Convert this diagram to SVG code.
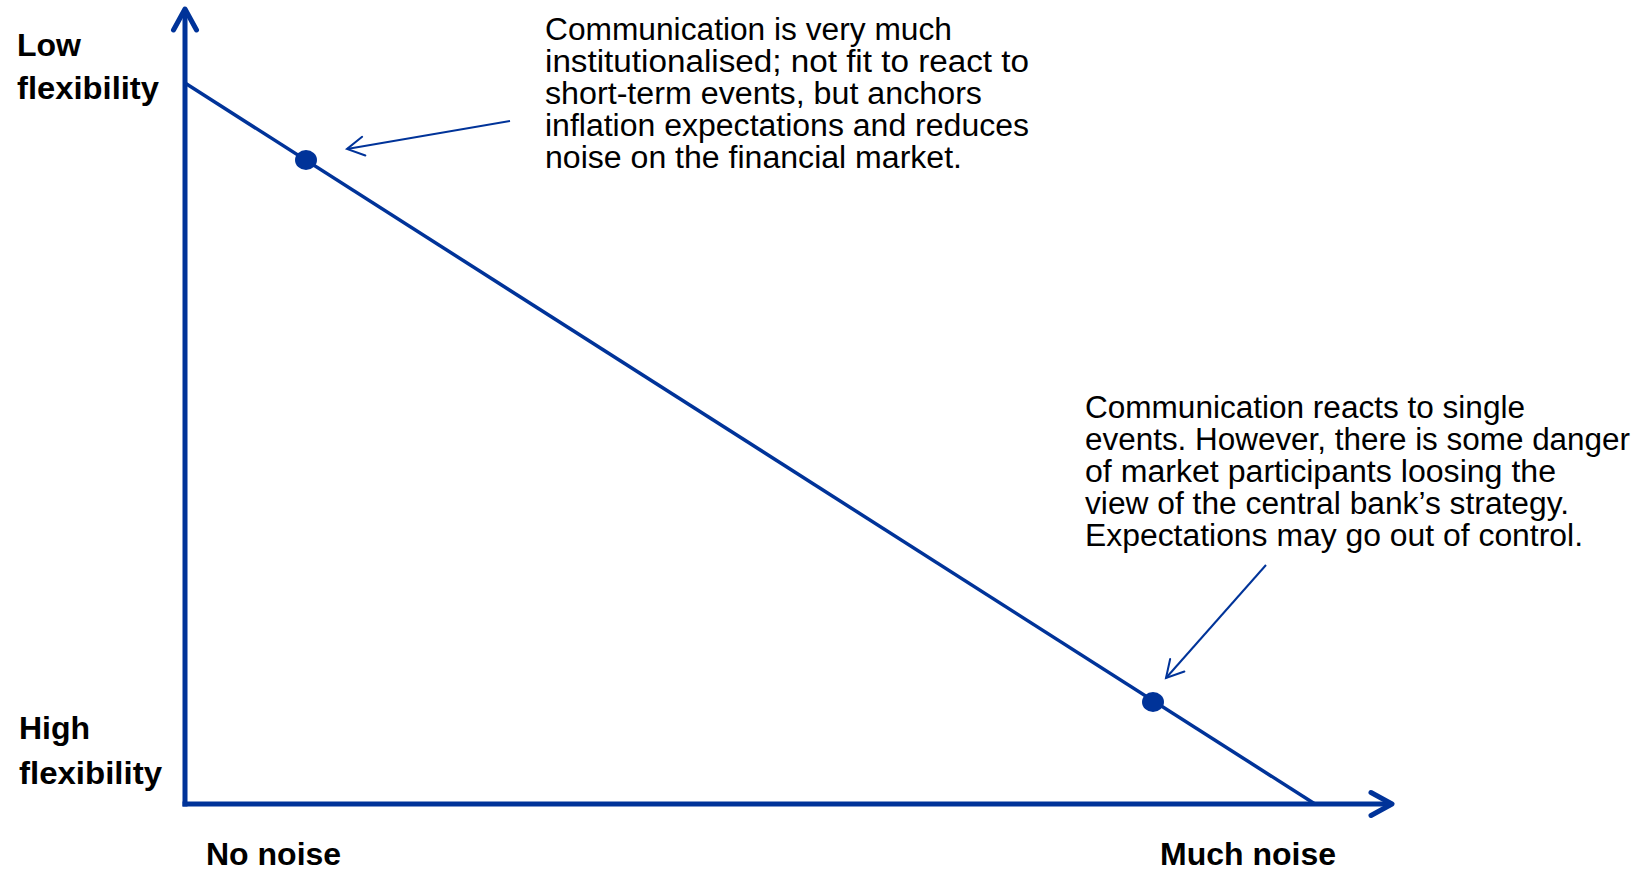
<svg xmlns="http://www.w3.org/2000/svg" width="1649" height="869" viewBox="0 0 1649 869">
<style>
.ax{stroke:#003399;stroke-width:5;fill:none}
.diag{stroke:#003399;stroke-width:3.5;fill:none}
.ptr{stroke:#003399;stroke-width:2;fill:none}
.dot{fill:#003399}
.lbl{font-family:"Liberation Sans",Arial,sans-serif;font-size:32px;font-weight:bold;fill:#000}
.txt{font-family:"Liberation Sans",Arial,sans-serif;font-size:31px;fill:#000}
</style>
<defs>
<marker id="axhead" markerUnits="userSpaceOnUse" markerWidth="40" markerHeight="40" viewBox="-30 -20 40 40" refX="0" refY="0" orient="auto" overflow="visible">
<path d="M-21,-11.5 L0,0 L-21,11.5" fill="none" stroke="#003399" stroke-width="5" stroke-linecap="round" stroke-linejoin="round"/>
</marker>
<marker id="ptrhead" markerUnits="userSpaceOnUse" markerWidth="30" markerHeight="30" viewBox="-25 -15 30 30" refX="0" refY="0" orient="auto" overflow="visible">
<path d="M-17,-9.5 L0,0 L-17,9.5" fill="none" stroke="#003399" stroke-width="2" stroke-linecap="round"/>
</marker>
</defs>
<rect width="1649" height="869" fill="#fff"/>
<g id="connectors">
<line class="ax" x1="185" y1="806.5" x2="185" y2="9" marker-end="url(#axhead)"/>
<line class="ax" x1="182.5" y1="804" x2="1392" y2="804" marker-end="url(#axhead)"/>
<line class="diag" x1="185" y1="83" x2="1315" y2="804"/>
<line class="ptr" x1="510" y1="121" x2="347" y2="149" marker-end="url(#ptrhead)"/>
<line class="ptr" x1="1266" y1="565" x2="1166" y2="678" marker-end="url(#ptrhead)"/>
</g>
<g id="dot-low-noise"><ellipse class="dot" cx="306" cy="160" rx="11" ry="10"/></g>
<g id="dot-much-noise"><ellipse class="dot" cx="1153" cy="702" rx="11" ry="10"/></g>
<g id="label-low-flexibility">
<text class="lbl" x="17" y="56">Low</text>
<text class="lbl" x="17" y="99" textLength="142" lengthAdjust="spacingAndGlyphs">flexibility</text>
</g>
<g id="label-high-flexibility">
<text class="lbl" x="19" y="739">High</text>
<text class="lbl" x="19" y="784" textLength="143" lengthAdjust="spacingAndGlyphs">flexibility</text>
</g>
<g id="label-no-noise"><text class="lbl" x="206" y="865">No noise</text></g>
<g id="label-much-noise"><text class="lbl" x="1160" y="865">Much noise</text></g>
<g id="note-institutionalised">
<text class="txt" x="545" y="39.5" textLength="407" lengthAdjust="spacingAndGlyphs">Communication is very much</text>
<text class="txt" x="545" y="71.5" textLength="484" lengthAdjust="spacingAndGlyphs">institutionalised; not fit to react to</text>
<text class="txt" x="545" y="103.5" textLength="437" lengthAdjust="spacingAndGlyphs">short-term events, but anchors</text>
<text class="txt" x="545" y="135.5" textLength="484" lengthAdjust="spacingAndGlyphs">inflation expectations and reduces</text>
<text class="txt" x="545" y="167.5" textLength="417" lengthAdjust="spacingAndGlyphs">noise on the financial market.</text>
</g>
<g id="note-reactive">
<text class="txt" x="1085" y="418" textLength="440" lengthAdjust="spacingAndGlyphs">Communication reacts to single</text>
<text class="txt" x="1085" y="450" textLength="545" lengthAdjust="spacingAndGlyphs">events. However, there is some danger</text>
<text class="txt" x="1085" y="482" textLength="471" lengthAdjust="spacingAndGlyphs">of market participants loosing the</text>
<text class="txt" x="1085" y="514" textLength="484" lengthAdjust="spacingAndGlyphs">view of the central bank’s strategy.</text>
<text class="txt" x="1085" y="546" textLength="498" lengthAdjust="spacingAndGlyphs">Expectations may go out of control.</text>
</g>
</svg>
